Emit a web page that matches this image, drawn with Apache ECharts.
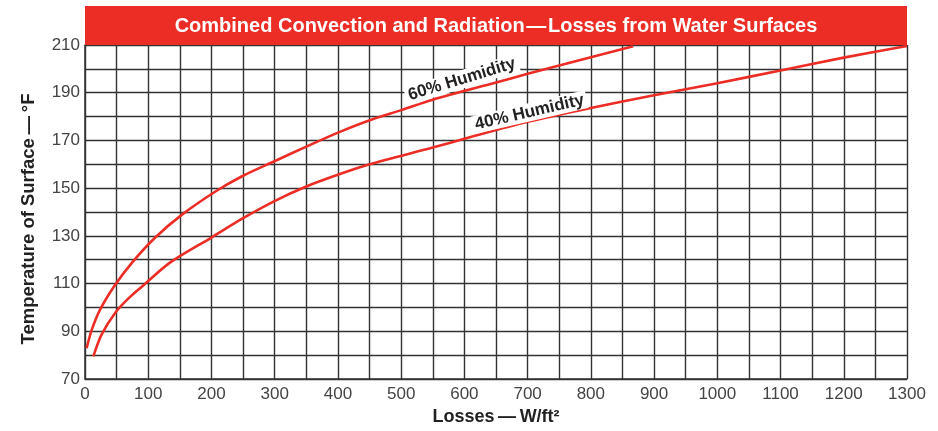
<!DOCTYPE html>
<html>
<head>
<meta charset="utf-8">
<script src="https://cdn.jsdelivr.net/npm/echarts@6/dist/echarts.min.js"></script>
<style>
html,body{margin:0;padding:0;background:#fff;}
#c{width:938px;height:431px;}
</style>
</head>
<body>
<div id="c"></div>
<script>
// Data
const titleText = 'Combined Convection and Radiation\u200A\u2014\u200ALosses from Water Surfaces';
const xName = 'Losses\u2009\u2014\u2009W/ft\u00B2';
const yName = 'Temperature of Surface\u2009\u2014\u2009\u00B0F';

const loss60 = [2.6, 10.5, 23.7, 46.4, 73.8, 110.7, 152.9, 208.2, 249.3, 300.5, 350, 402, 451.5, 500, 550, 650, 700, 800, 867];
const temp60 = [82.9, 90.5, 99.0, 109.0, 118.6, 129.2, 138.8, 148.9, 155.1, 161.4, 167.4, 173.5, 178.6, 182.7, 187.1, 194.3, 197.9, 204.9, 209.5];

const loss40 = [13.2, 26.4, 48.5, 70, 91.2, 134.4, 199.3, 249.3, 300.5, 350, 402, 450, 550, 600, 700, 800, 900, 1000, 1100, 1200, 1300];
const temp40 = [79.5, 88.7, 98.0, 104.1, 109.0, 118.8, 129.2, 137.3, 144.7, 150.7, 155.8, 160.0, 167.0, 170.7, 177.8, 183.6, 188.9, 194.0, 199.3, 204.7, 209.6];

const label60 = { text: '60% Humidity', at: [596, 195.6] };
const label40 = { text: '40% Humidity', at: [703, 181.8] };

const xTicks = [0, 1300, 100];
const yTicks = [70, 210, 20];

const pair = (xs, ys) => xs.map((x, i) => [x, ys[i]]);
const red = '#ec2d25';
const font = '"Liberation Sans", Arial, sans-serif';

const chart = echarts.init(document.getElementById('c'), null, {renderer: 'canvas'});

function humidityLabel(l, rot) {
  return {
    symbol: 'circle', symbolSize: 0,
    data: [{
      coord: l.at,
      label: {
        show: true, position: 'inside', formatter: l.text, rotate: rot,
        color: '#222', fontFamily: font, fontWeight: 'bold', fontSize: 17,
        backgroundColor: '#fff', padding: [1, 3, 0, 3]
      }
    }]
  };
}

chart.setOption({
  animation: false,
  graphic: [{
    type: 'rect', left: 85, top: 6, z: 10,
    shape: {width: 822, height: 39},
    style: {fill: red}
  }, {
    type: 'text', x: 496, y: 26, z: 11,
    style: {text: titleText, fill: '#fff', font: 'bold 20px ' + font, textAlign: 'center', textVerticalAlign: 'middle'}
  }],
  grid: {left: 85, right: 31, top: 45, bottom: 50},
  xAxis: {
    type: 'value', min: xTicks[0], max: xTicks[1], interval: 50,
    name: xName, nameLocation: 'middle', nameGap: 29,
    nameTextStyle: {fontFamily: font, fontWeight: 'bold', fontSize: 18, color: '#222'},
    axisLine: {show: true, lineStyle: {color: '#333', width: 1.5}},
    axisTick: {show: false},
    axisLabel: {
      fontFamily: font, fontSize: 17, color: '#444', margin: 7,
      formatter: v => (v % xTicks[2] === 0 ? String(v) : '')
    },
    splitLine: {show: true, lineStyle: {color: '#333', width: 1.4}}
  },
  yAxis: {
    type: 'value', min: yTicks[0], max: yTicks[1], interval: 10,
    name: yName, nameLocation: 'middle', nameGap: 47, nameRotate: 90,
    nameTextStyle: {fontFamily: font, fontWeight: 'bold', fontSize: 18.5, color: '#222', padding: [0, 14, 0, 0]},
    axisLine: {show: true, lineStyle: {color: '#333', width: 1.5}},
    axisTick: {show: false},
    axisLabel: {
      fontFamily: font, fontSize: 17, color: '#444', margin: 5,
      formatter: v => ((v - yTicks[0]) % yTicks[2] === 0 ? String(v) : '')
    },
    splitLine: {show: true, lineStyle: {color: '#333', width: 1.4}}
  },
  series: [{
    name: '60% Humidity', type: 'line', data: pair(loss60, temp60),
    smooth: 0.3, showSymbol: false, clip: true,
    lineStyle: {color: red, width: 2.6},
    markPoint: humidityLabel(label60, 17)
  }, {
    name: '40% Humidity', type: 'line', data: pair(loss40, temp40),
    smooth: 0.3, showSymbol: false, clip: true,
    lineStyle: {color: red, width: 2.6},
    markPoint: humidityLabel(label40, 13)
  }]
});
</script>
</body>
</html>
